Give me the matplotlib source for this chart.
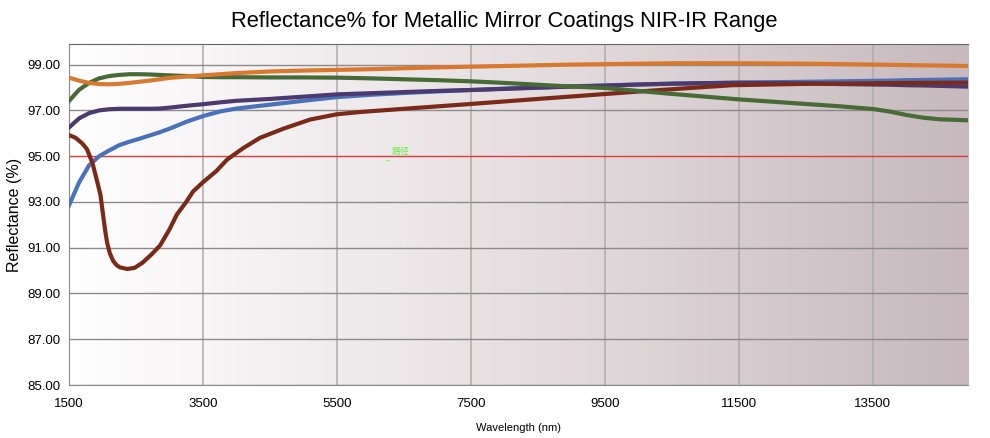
import numpy as np
import matplotlib
matplotlib.use('Agg')
import matplotlib.pyplot as plt

# 数据
wl = [1500, 1650, 1800, 1950, 2100, 2250, 2400, 2550, 2700, 2850, 3000, 3250,
      3500, 3750, 4000, 4500, 5000, 5500, 6000, 6500, 7000, 7500, 8000, 8500,
      9000, 9500, 10000, 10500, 11000, 11500, 12000, 12500, 13000, 13500,
      13750, 14000, 14250, 14500, 14900]

orange = [98.43, 98.30, 98.20, 98.15, 98.14, 98.16, 98.20, 98.25, 98.30, 98.36,
          98.42, 98.48, 98.53, 98.58, 98.63, 98.70, 98.74, 98.77, 98.80, 98.84,
          98.88, 98.91, 98.94, 98.97, 99.00, 99.02, 99.04, 99.06, 99.06, 99.06,
          99.05, 99.04, 99.02, 99.00, 98.99, 98.98, 98.97, 98.96, 98.94]

green = [97.41, 97.90, 98.20, 98.40, 98.50, 98.55, 98.58, 98.58, 98.57, 98.55,
         98.53, 98.50, 98.46, 98.45, 98.45, 98.44, 98.44, 98.43, 98.40, 98.36,
         98.32, 98.27, 98.20, 98.12, 98.04, 97.98, 97.85, 97.72, 97.60, 97.48,
         97.38, 97.28, 97.18, 97.06, 96.95, 96.80, 96.68, 96.61, 96.57]

purple = [96.25, 96.65, 96.88, 97.00, 97.05, 97.07, 97.07, 97.07, 97.07, 97.08,
          97.12, 97.20, 97.27, 97.35, 97.42, 97.50, 97.60, 97.70, 97.75, 97.80,
          97.85, 97.89, 97.94, 97.99, 98.04, 98.08, 98.13, 98.17, 98.19, 98.21,
          98.20, 98.18, 98.15, 98.13, 98.12, 98.10, 98.09, 98.07, 98.04]

blue = [92.85, 93.85, 94.60, 95.00, 95.25, 95.48, 95.63, 95.76, 95.90, 96.04,
        96.20, 96.50, 96.75, 96.95, 97.08, 97.25, 97.42, 97.58, 97.68, 97.76,
        97.83, 97.89, 97.95, 98.00, 98.05, 98.09, 98.13, 98.16, 98.19, 98.21,
        98.23, 98.25, 98.27, 98.29, 98.30, 98.32, 98.33, 98.34, 98.36]

# 棕色曲线在 2000 nm 附近有深谷，单独取点
wl_brown = [1500, 1600, 1700, 1770, 1850, 1920, 1970, 2010, 2040, 2070, 2110,
            2160, 2210, 2260, 2370, 2480, 2600, 2730, 2860, 3000, 3110, 3250,
            3350, 3500, 3700, 3860, 4100, 4350, 4700, 5100, 5500, 5850, 6500,
            7450, 8500, 9430, 10320, 11400, 12500, 13400, 14000, 14900]
brown = [95.92, 95.80, 95.55, 95.30, 94.70, 93.90, 93.30, 92.40, 91.75, 91.20,
         90.75, 90.42, 90.24, 90.14, 90.07, 90.12, 90.35, 90.70, 91.10, 91.80,
         92.45, 93.00, 93.45, 93.86, 94.35, 94.85, 95.35, 95.80, 96.20, 96.60,
         96.83, 96.93, 97.07, 97.27, 97.50, 97.70, 97.89, 98.10, 98.16, 98.18,
         98.20, 98.21]

xticks = [1500, 3500, 5500, 7500, 9500, 11500, 13500]
yticks = [85, 87, 89, 91, 93, 95, 97, 99]

plt.rcParams['font.family'] = ['Liberation Sans', 'DejaVu Sans']

fig = plt.figure(figsize=(9.9, 4.38), dpi=100)
ax = fig.add_axes([0.0697, 0.121, 0.9081, 0.7785])

# 背景横向渐变（白 -> 灰紫）
grad = np.linspace(0, 1, 256).reshape(1, -1)
cmap = matplotlib.colors.LinearSegmentedColormap.from_list(
    'bg', ['#ffffff', '#e6dfe1', '#c7b9be'])
ax.imshow(grad, extent=[0, 1, 0, 1], transform=ax.transAxes, aspect='auto',
          cmap=cmap, zorder=0)

ax.set_xlim(1500, 14920)
ax.set_ylim(85, 99.9)

for x in xticks[1:]:
    ax.axvline(x, color='#aeaaac', lw=1.1, zorder=1)
for y in yticks:
    if y != 95:
        ax.axhline(y, color='#8c8a8b', lw=1.0, zorder=1)
ax.axhline(95, color='#e03a3a', lw=1.0, zorder=2)

lw = 3.0
ax.plot(wl, blue, color='#4a72b8', lw=lw, zorder=3)
ax.plot(wl, purple, color='#4c3a6e', lw=lw, zorder=3)
ax.plot(wl_brown, brown, color='#7b2a1a', lw=lw, zorder=4)
ax.plot(wl, green, color='#486a36', lw=lw, zorder=4)
ax.plot(wl, orange, color='#d9782f', lw=lw, zorder=5)

ax.text(6320, 95.1, '路径', color='#66ee44', fontsize=6.5,
        family=['Noto Sans CJK SC', 'DejaVu Sans'], zorder=6)
ax.text(6240, 94.85, '1', color='#66ee44', fontsize=4, rotation=90, zorder=6)

ax.set_xticks(xticks)
ax.set_yticks(yticks)
ax.set_xticklabels([str(v) for v in xticks])
ax.set_yticklabels(['%.2f' % v for v in yticks])
ax.tick_params(axis='y', length=0, labelsize=9.5, pad=6)
ax.tick_params(axis='x', length=0, labelsize=9.5, pad=9)

for s in ['left', 'bottom']:
    ax.spines[s].set_color('#8a8a8a')
ax.spines['top'].set_color('#666666')
ax.spines['right'].set_visible(False)

ax.set_xlabel('Wavelength (nm)', fontsize=8, labelpad=10)
ax.set_ylabel('Reflectance (%)', fontsize=11.5, labelpad=4)
fig.suptitle('Reflectance% for Metallic Mirror Coatings NIR-IR Range',
             fontsize=15.8, x=0.509, y=0.975)

fig.savefig('out.png', dpi=100)
